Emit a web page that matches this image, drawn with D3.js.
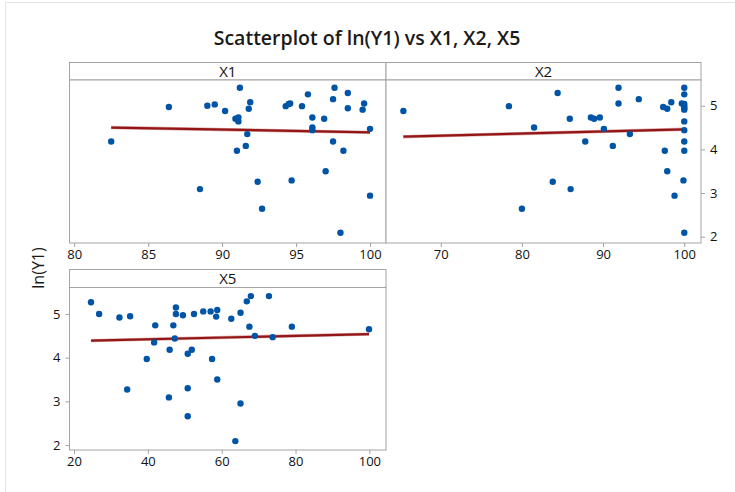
<!DOCTYPE html>
<html>
<head>
<meta charset="utf-8">
<script src="https://cdn.jsdelivr.net/npm/d3@7/dist/d3.min.js"></script>
<style>
  html, body { margin: 0; padding: 0; background: #fff; }
  svg { display: block; font-family: "Open Sans", "Noto Sans", sans-serif; }
</style>
</head>
<body>
<svg id="chart" width="735" height="492"></svg>
<script>
// ---- data ----
const title = "Scatterplot of ln(Y1) vs X1, X2, X5";
const yLabel = "ln(Y1)";
const panelNames = ["X1", "X2", "X5"];

const x1Ticks = [80, 85, 90, 95, 100];
const x2Ticks = [70, 80, 90, 100];
const x5Ticks = [20, 40, 60, 80, 100];
const yTicks = [2, 3, 4, 5];

// [x, ln(Y1)]
const x1Points = [
  [82.5,4.18],[86.4,4.97],[88.5,3.09],[89.0,5.00],[89.5,5.03],[90.2,4.88],
  [90.9,4.70],[91.1,4.73],[91.1,4.64],[91.2,5.41],[91.0,3.97],[91.6,4.08],
  [91.7,4.35],[91.8,4.93],[91.9,5.08],[92.4,3.26],[92.7,2.64],[94.3,4.99],
  [94.5,5.04],[94.6,5.05],[94.7,3.29],[95.4,4.99],[95.8,5.26],[96.1,4.73],
  [96.1,4.50],[96.1,4.44],[96.9,4.70],[97.0,3.50],[97.5,5.15],[97.6,5.41],
  [97.5,4.18],[98.2,3.97],[98.0,2.09],[98.5,5.29],[98.5,4.94],[99.5,4.91],
  [99.6,5.05],[100.0,4.47],[100.0,2.94]
];
const x2Points = [
  [65.4,4.88],[78.4,4.99],[80.0,2.64],[81.5,4.50],[83.8,3.26],[84.4,5.29],
  [85.9,4.70],[86.0,3.09],[87.8,4.18],[88.5,4.73],[88.9,4.70],[89.6,4.73],
  [90.1,4.47],[91.2,4.08],[91.9,5.41],[91.9,5.05],[93.3,4.35],[94.4,5.15],
  [97.4,4.97],[97.9,4.93],[97.6,3.97],[97.9,3.50],[98.4,5.08],[98.8,2.94],
  [99.7,5.05],[99.9,3.29],
  [100,5.41],[100,5.26],[100,5.04],[100,4.99],[100,4.94],[100,4.91],
  [100,4.64],[100,4.44],[100,4.18],[100,3.97],[100,2.09]
];
const x5Points = [
  [24.6,5.27],[26.8,5.00],[32.3,4.92],[35.2,4.95],[34.4,3.27],[39.7,3.97],
  [41.7,4.35],[42.0,4.74],[45.7,3.09],[45.9,4.18],[46.9,4.74],[47.3,4.44],
  [47.6,5.15],[47.6,5.00],[49.5,4.97],[50.8,4.09],[50.8,3.30],[50.8,2.66],
  [51.9,4.18],[52.5,5.00],[55.0,5.06],[57.0,5.06],[57.4,3.97],[58.5,4.94],
  [58.8,5.09],[58.8,3.50],[62.6,4.89],[63.7,2.09],[65.1,5.03],[65.1,2.95],
  [66.8,5.29],[67.9,5.41],[67.5,4.71],[69.0,4.50],[72.8,5.41],[73.8,4.47],
  [79.0,4.71],[99.9,4.65]
];
// fitted line end points [x, ln(Y1)]
const x1Fit = [[82.5,4.50],[100,4.39]];
const x2Fit = [[65.4,4.29],[100,4.46]];
const x5Fit = [[24.6,4.39],[99.9,4.54]];

// ---- drawing ----
const svg = d3.select("#chart");
const grey = "#a3a3a3";
const dotColor = "#0054a6";
const lineColor = "#931616";

// outer frame
svg.append("line").attr("x1",5).attr("x2",735).attr("y1",2.5).attr("y2",2.5)
  .attr("stroke","#e3e3e3");
svg.append("line").attr("x1",5.5).attr("x2",5.5).attr("y1",2).attr("y2",492)
  .attr("stroke","#e3e3e3");

svg.append("text").attr("x",367).attr("y",45).attr("text-anchor","middle")
  .attr("font-size",19.5).attr("font-weight",600).attr("fill","#1a1a1a").text(title);

svg.append("text").attr("transform","translate(44,268) rotate(-90)")
  .attr("text-anchor","middle").attr("font-size",16).attr("fill","#1a1a1a").text(yLabel);

const panels = [
  {name: panelNames[0], pts: x1Points, fit: x1Fit, ticks: x1Ticks, dom: [79.68,101.08],
   left: 69.5, right: 386, stripTop: 62.5, top: 80, bottom: 243, yAxis: null},
  {name: panelNames[1], pts: x2Points, fit: x2Fit, ticks: x2Ticks, dom: [63.26,102.06],
   left: 386, right: 701, stripTop: 62.5, top: 80, bottom: 243, yAxis: "right"},
  {name: panelNames[2], pts: x5Points, fit: x5Fit, ticks: x5Ticks, dom: [18.78,104.5],
   left: 69.5, right: 386, stripTop: 269.5, top: 287.5, bottom: 450, yAxis: "left"}
];

panels.forEach(p => {
  const x = d3.scaleLinear().domain(p.dom).range([p.left, p.right]);
  const yBase = p.top === 80 ? 105.7 : 314;
  const pxPerUnit = 43.67;
  const y = d3.scaleLinear().domain([2, 5]).range([yBase + 3*pxPerUnit, yBase]);
  const g = svg.append("g");

  // strip
  g.append("rect").attr("x",p.left).attr("y",p.stripTop)
    .attr("width",p.right-p.left).attr("height",p.top-p.stripTop)
    .attr("fill","#fff").attr("stroke",grey).attr("stroke-width",1);
  g.append("text").attr("x",(p.left+p.right)/2).attr("y",p.top-3.5)
    .attr("text-anchor","middle").attr("font-size",15).attr("fill","#111").text(p.name);

  // plot frame
  g.append("rect").attr("x",p.left).attr("y",p.top)
    .attr("width",p.right-p.left).attr("height",p.bottom-p.top)
    .attr("fill","#fff").attr("stroke",grey).attr("stroke-width",1);

  // x axis
  const xa = g.append("g").attr("transform",`translate(0,${p.bottom})`)
    .call(d3.axisBottom(x).tickValues(p.ticks).tickSize(4).tickPadding(3).tickFormat(d3.format("d")));
  xa.select(".domain").remove();
  xa.selectAll(".tick line").attr("stroke",grey);
  xa.selectAll(".tick text").attr("font-size",13).attr("fill","#111")
    .attr("font-family","'Open Sans', sans-serif");

  // y axis
  if (p.yAxis) {
    const axis = p.yAxis === "right" ? d3.axisRight(y) : d3.axisLeft(y);
    const ya = g.append("g").attr("transform",`translate(${p.yAxis==="right"?p.right:p.left},0)`)
      .call(axis.tickValues(yTicks).tickSize(4).tickPadding(5).tickFormat(d3.format("d")));
    ya.select(".domain").remove();
    ya.selectAll(".tick line").attr("stroke",grey);
    ya.selectAll(".tick text").attr("font-size",13).attr("fill","#111")
      .attr("font-family","'Open Sans', sans-serif");
  }

  // fit line
  const line = d3.line().x(d => x(d[0])).y(d => y(d[1]));
  g.append("path").datum(p.fit).attr("d",line).attr("fill","none")
    .attr("stroke","#dcaaaa").attr("stroke-width",3.4);
  g.append("path").datum(p.fit).attr("d",line).attr("fill","none")
    .attr("stroke",lineColor).attr("stroke-width",2.2);

  // points
  g.selectAll("circle").data(p.pts).enter().append("circle")
    .attr("cx",d => x(d[0])).attr("cy",d => y(d[1])).attr("r",3.2)
    .attr("fill",dotColor);
});
</script>
</body>
</html>
